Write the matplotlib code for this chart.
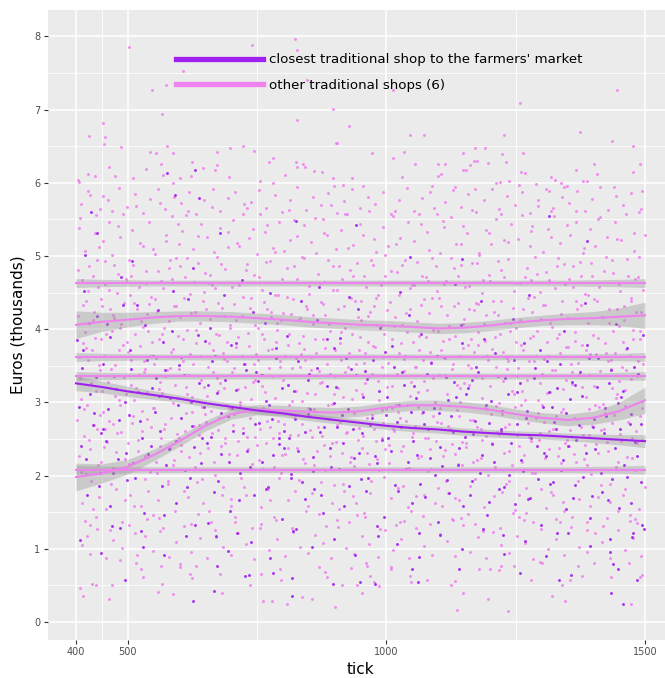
import numpy as np
import matplotlib
matplotlib.use('Agg')
import matplotlib.pyplot as plt
from matplotlib.lines import Line2D
from matplotlib.ticker import FixedLocator

# daily sales (thousands of euros) per tick: "tick value" pairs
other_pts = """
403 4.81 406 2.27 408 5.52 410 3.05 412 1.63 414 4.33 416 2.91 418 5.07 420 3.74 421 1.18 423 4.52 425 2.48
427 5.83 429 3.27 430 1.92 432 4.12 434 2.69 436 5.31 437 3.88 439 1.44 441 4.95 443 2.15 444 3.51 446 5.64
447 2.83 449 4.41 405 3.62 419 2.02 433 4.73 445 1.71
451 3.15 452 5.21 454 2.39 456 4.62 458 1.55 459 3.93 461 5.76 463 2.74 465 4.28 466 1.26 468 3.46 470 5.02
472 2.11 473 4.87 475 3.09 477 1.82 479 4.49 480 2.58 482 5.41 484 3.71 486 2.96 487 4.07 489 1.37 491 5.58
493 3.34 495 2.23 496 4.69 498 3.82 457 2.64 471 4.19
501 2.44 503 4.94 505 1.73 507 3.58 508 5.36 510 2.81 512 4.36 514 1.21 516 3.19 517 5.68 519 2.33 521 4.58
523 3.77 525 1.58 526 4.11 528 2.61 530 5.14 532 3.41 534 1.96 535 4.79 537 2.77 539 3.97 541 5.47 543 2.05
544 3.63 546 4.44 548 2.92 549 1.46 513 3.03 538 4.21
551 3.52 553 5.03 555 2.18 556 4.25 558 1.67 560 3.86 562 5.72 564 2.52 565 4.66 567 3.13 569 1.29 571 4.02
573 2.71 574 5.29 576 3.44 578 1.88 580 4.84 582 2.37 583 3.69 585 5.55 587 2.99 589 4.31 591 1.51 592 3.24
594 4.97 596 2.57 598 3.91 599 5.16 563 3.28 588 2.14
601 4.16 603 2.42 605 5.34 607 3.57 609 1.79 610 4.71 612 2.86 614 3.99 616 5.61 618 2.26 619 3.37 621 4.48
623 1.34 625 3.07 627 5.09 628 2.68 630 4.23 632 3.81 634 1.91 636 4.91 637 2.55 639 3.64 641 5.43 643 2.94
645 4.38 646 1.62 648 3.21 650 4.77 615 3.12 640 2.31
652 2.73 654 5.26 655 3.49 657 1.52 659 4.14 661 2.88 663 5.67 664 3.71 666 2.19 668 4.56 670 1.16 672 3.33
673 4.99 675 2.62 677 3.92 679 5.38 681 2.41 682 4.29 684 1.85 686 3.59 688 4.82 690 2.97 691 3.83 693 5.12
695 2.29 697 4.06 699 1.68 674 3.16 689 2.51 658 4.63
701 3.42 703 5.49 705 2.84 706 4.35 708 1.43 710 3.76 712 5.18 714 2.47 715 4.61 717 3.01 719 1.97 721 4.18
723 2.65 724 5.71 726 3.53 728 1.74 730 4.89 732 2.36 733 3.95 735 5.24 737 2.78 739 4.42 741 1.28 742 3.28
744 4.74 746 2.53 748 3.66 749 5.03 713 3.18 738 2.09
751 4.01 753 2.21 755 5.58 757 3.38 758 1.57 760 4.53 762 2.93 764 3.87 766 5.33 767 2.45 769 4.27 771 1.81
773 3.47 775 4.93 776 2.67 778 3.73 780 5.11 782 2.12 784 4.47 785 3.06 787 1.39 789 4.09 791 2.74 793 5.46
794 3.56 796 2.03 798 4.68 759 3.22 777 4.17 792 2.58
801 3.31 803 5.07 805 2.29 807 4.44 809 1.66 810 3.79 812 5.63 814 2.56 816 4.21 818 3.02 819 1.23 821 4.86
823 2.82 825 3.61 827 5.27 828 2.38 830 4.13 832 1.94 834 3.48 836 4.98 837 2.71 839 3.91 841 5.42 843 2.17
845 4.32 846 3.13 848 1.59 850 4.59 811 2.96 835 3.66
852 2.62 854 5.19 855 3.44 857 1.76 859 4.07 861 2.91 863 5.52 864 3.68 866 2.33 868 4.76 870 1.48 872 3.26
873 4.37 875 2.54 877 3.86 879 5.31 881 2.08 882 4.19 884 1.31 886 3.52 888 4.95 890 2.77 891 3.97 893 5.69
895 2.44 897 4.54 899 1.87 862 3.11 880 4.64 894 2.98
901 3.36 903 5.09 905 2.69 906 4.28 908 1.54 910 3.81 912 5.36 914 2.31 915 4.69 917 3.08 919 1.79 921 4.02
923 2.59 924 5.57 926 3.49 928 1.36 930 4.81 932 2.26 933 3.94 935 5.15 937 2.86 939 4.39 941 1.63 942 3.17
944 4.91 946 2.49 948 3.72 949 5.44 913 3.58 938 2.13
951 4.12 953 2.37 955 5.28 957 3.54 958 1.43 960 4.57 962 2.79 964 3.83 966 5.61 967 2.16 969 4.23 971 1.92
973 3.39 975 4.87 976 2.64 978 3.76 980 5.06 982 2.22 984 4.46 985 3.03 987 1.27 989 4.04 991 2.89 993 5.39
994 3.62 996 1.98 998 4.72 959 3.27 977 4.31 992 2.52
1001 3.21 1003 5.13 1005 2.42 1007 4.37 1009 1.69 1010 3.87 1012 5.54 1014 2.61 1016 4.16 1018 2.97 1019 1.32
1021 4.78 1023 2.87 1025 3.67 1027 5.24 1028 2.34 1030 4.06 1032 1.86 1034 3.43 1036 4.94 1037 2.74 1039 3.96
1041 5.47 1043 2.11 1045 4.27 1046 3.09 1048 1.51 1050 4.61 1011 2.93 1035 3.59
1052 2.58 1054 5.21 1055 3.48 1057 1.72 1059 4.11 1061 2.94 1063 5.58 1064 3.71 1066 2.27 1068 4.72 1070 1.45
1072 3.29 1073 4.41 1075 2.51 1077 3.89 1079 5.33 1081 2.06 1082 4.22 1084 1.34 1086 3.55 1088 4.97 1090 2.81
1091 3.99 1093 5.66 1095 2.47 1097 4.52 1099 1.83 1062 3.14 1080 4.66 1094 3.01
1101 3.38 1103 5.04 1105 2.72 1106 4.31 1108 1.58 1110 3.84 1112 5.39 1114 2.35 1115 4.66 1117 3.12 1119 1.76
1121 4.04 1123 2.63 1124 5.53 1126 3.46 1128 1.39 1130 4.84 1132 2.29 1133 3.91 1135 5.17 1137 2.89 1139 4.36
1141 1.67 1142 3.19 1144 4.88 1146 2.46 1148 3.74 1149 5.41 1113 3.61 1138 2.16
1151 4.14 1153 2.39 1155 5.31 1157 3.51 1158 1.47 1160 4.59 1162 2.76 1164 3.86 1166 5.63 1167 2.19 1169 4.26
1171 1.95 1173 3.36 1175 4.91 1176 2.67 1178 3.78 1180 5.02 1182 2.24 1184 4.49 1185 3.06 1187 1.24 1189 4.07
1191 2.92 1193 5.36 1194 3.64 1196 2.01 1198 4.74 1159 3.24 1177 4.34 1192 2.54
1201 3.23 1203 5.16 1205 2.44 1207 4.39 1209 1.72 1210 3.89 1212 5.51 1214 2.59 1216 4.19 1218 2.99 1219 1.29
1221 4.81 1223 2.84 1225 3.69 1227 5.22 1228 2.31 1230 4.09 1232 1.89 1234 3.45 1236 4.96 1237 2.71 1239 3.98
1241 5.44 1243 2.14 1245 4.29 1246 3.11 1248 1.53 1250 4.63 1211 2.95 1235 3.57
1252 2.56 1254 5.23 1255 3.47 1257 1.74 1259 4.13 1261 2.96 1263 5.56 1264 3.72 1266 2.28 1268 4.71 1270 1.49
1272 3.31 1273 4.43 1275 2.53 1277 3.88 1279 5.34 1281 2.04 1282 4.24 1284 1.36 1286 3.56 1288 4.99 1290 2.79
1291 3.97 1293 5.68 1295 2.48 1297 4.51 1299 1.81 1262 3.16 1280 4.67 1294 3.03
1301 3.39 1303 5.06 1305 2.73 1306 4.33 1308 1.56 1310 3.82 1312 5.37 1314 2.36 1315 4.67 1317 3.14 1319 1.78
1321 4.03 1323 2.64 1324 5.54 1326 3.44 1328 1.41 1330 4.86 1332 2.27 1333 3.93 1335 5.18 1337 2.87 1339 4.38
1341 1.64 1342 3.18 1344 4.89 1346 2.45 1348 3.76 1349 5.42 1313 3.63 1338 2.17
1351 4.15 1353 2.41 1355 5.29 1357 3.53 1358 1.44 1360 4.58 1362 2.78 1364 3.84 1366 5.62 1367 2.18 1369 4.27
1371 1.93 1373 3.37 1375 4.92 1376 2.66 1378 3.79 1380 5.04 1382 2.23 1384 4.48 1385 3.07 1387 1.26 1389 4.08
1391 2.91 1393 5.37 1394 3.66 1396 2.02 1398 4.73 1359 3.25 1377 4.33 1392 2.55
1401 3.22 1403 5.14 1405 2.43 1407 4.38 1409 1.71 1410 3.88 1412 5.53 1414 2.62 1416 4.17 1418 2.98 1419 1.31
1421 4.79 1423 2.86 1425 3.68 1427 5.26 1428 2.33 1430 4.08 1432 1.88 1434 3.46 1436 4.95 1437 2.72 1439 3.97
1441 5.46 1443 2.12 1445 4.28 1446 3.12 1448 1.52 1450 4.62 1411 2.94 1435 3.58
1452 2.57 1454 5.22 1455 3.49 1457 1.73 1459 4.12 1461 2.95 1463 5.57 1464 3.73 1466 2.26 1468 4.73 1470 1.46
1472 3.32 1473 4.42 1475 2.52 1477 3.87 1479 5.32 1481 2.07 1482 4.23 1484 1.35 1486 3.57 1488 4.98 1490 2.82
1491 3.98 1493 5.64 1495 2.49 1497 4.53 1499 1.84 1462 3.17 1480 4.68 1494 3.02
402 2.76 404 4.18 407 3.33 409 2.05 411 4.67 413 3.81 415 2.54 417 3.96 420 4.39 422 2.97 424 3.58 426 4.86
428 2.36 431 3.72 433 1.54 435 4.24 438 3.16 440 2.63 442 4.58 444 5.12 446 3.44 448 2.19 449 3.87 406 5.38 427 1.33
450 4.31 453 2.87 455 3.64 457 4.93 460 2.46 462 3.28 464 4.54 467 1.88 469 3.97 471 2.71 474 4.15 476 3.51
478 2.32 481 4.76 483 3.03 485 5.26 488 2.59 490 3.79 492 4.36 494 1.67 497 3.12 499 4.64 463 5.47 479 2.09 486 4.02
500 3.69 502 2.16 504 4.47 506 3.24 509 2.72 511 4.88 513 1.58 515 3.93 518 4.27 520 2.49 522 3.37 524 5.18
527 2.88 529 4.03 531 3.57 533 2.27 536 4.63 538 3.14 540 1.79 542 4.35 545 2.67 547 3.82 549 5.09 507 4.72 533 3.46
550 2.93 552 4.41 554 3.61 557 2.04 559 4.79 561 3.18 563 2.41 566 3.94 568 4.56 570 2.63 572 3.36 575 5.21
577 1.92 579 4.11 581 3.47 584 2.78 586 4.69 588 3.73 590 2.21 593 4.32 595 3.06 597 5.43 599 2.52 560 1.42 581 4.94
600 3.45 602 4.86 604 2.34 606 3.87 608 4.43 611 2.61 613 3.21 615 4.97 617 1.71 620 3.66 622 4.22 624 2.87
626 3.52 629 4.65 631 2.12 633 3.99 635 5.27 638 2.69 640 4.08 642 3.31 644 1.96 647 4.51 649 2.84 612 5.56 636 1.47
651 4.27 653 3.09 656 2.38 658 3.81 660 4.74 662 2.58 665 3.42 667 5.06 669 2.01 671 3.94 674 4.36 676 2.79
678 3.27 680 4.89 683 1.73 685 3.68 687 4.18 689 2.44 692 3.56 694 5.33 696 2.93 698 4.02 700 1.59 662 4.61 687 3.19
702 4.58 704 2.69 706 3.47 709 4.12 711 2.28 713 3.89 716 5.14 718 2.97 720 3.63 722 4.44 725 1.84 727 3.21
729 4.81 731 2.53 734 3.77 736 4.29 738 3.04 740 2.16 743 5.37 745 3.52 747 4.06 749 2.42 708 1.37 731 5.66 746 3.31
752 3.58 754 4.71 756 2.63 759 3.94 761 2.09 763 4.37 766 3.14 768 4.92 770 2.74 772 3.71 775 1.67 777 4.24
779 3.36 781 2.51 784 5.06 786 3.83 788 2.88 790 4.46 793 1.97 795 3.49 797 4.13 799 2.28 770 5.42 788 3.99 755 1.29
800 4.22 802 2.71 804 3.64 807 4.83 809 2.38 811 3.93 813 5.22 816 2.84 818 3.47 820 4.41 823 1.79 825 3.16
827 4.69 829 2.56 832 3.81 834 4.15 836 3.02 838 2.23 841 4.97 843 3.58 845 1.52 847 4.28 849 2.92 822 5.49 840 3.73
851 4.48 853 2.81 855 3.62 858 4.19 860 2.14 862 3.86 864 5.04 867 2.67 869 3.43 871 4.63 873 1.91 876 3.28
878 4.34 880 2.42 882 3.74 885 5.29 887 2.96 889 4.07 891 3.39 894 1.63 896 4.86 898 3.12 856 2.53 877 5.51 892 2.27
900 3.71 902 2.46 904 4.53 907 3.19 909 4.86 911 2.73 913 3.96 916 1.88 918 4.31 920 3.41 922 2.58 925 5.11
927 3.67 929 2.19 931 4.42 934 3.04 936 4.72 938 2.87 941 3.53 943 1.46 945 4.17 947 2.65 949 3.89 920 5.58 936 1.72
950 4.38 953 3.11 955 2.54 957 4.73 959 3.67 962 2.31 964 4.18 966 3.36 968 1.76 971 4.94 973 2.83 975 3.77
977 5.23 980 2.47 982 4.06 984 3.29 986 2.08 989 4.61 991 3.48 993 2.72 996 3.93 998 5.02 957 1.49 979 4.42 997 2.36
1000 2.91 1002 4.26 1004 3.54 1006 2.17 1009 4.79 1011 3.22 1013 2.64 1015 4.04 1018 5.17 1020 3.39 1022 1.83
1024 4.47 1027 2.79 1029 3.81 1031 4.88 1033 2.41 1036 3.63 1038 4.22 1040 2.96 1042 1.57 1045 4.56 1047 3.28
1049 2.53 1017 5.61 1034 1.38
1051 3.82 1053 4.61 1055 2.68 1058 3.49 1060 4.92 1062 2.24 1064 3.91 1067 4.33 1069 2.86 1071 3.58 1073 1.74
1076 4.71 1078 3.17 1080 2.51 1082 5.08 1085 3.69 1087 2.09 1089 4.42 1091 3.33 1094 1.62 1096 4.86 1098 2.73
1100 3.97 1066 5.44 1084 2.36
1102 4.43 1104 2.93 1106 3.71 1109 2.27 1111 4.62 1113 3.38 1115 1.92 1118 4.19 1120 2.68 1122 3.86 1124 4.97
1127 2.43 1129 3.52 1131 4.31 1133 1.69 1136 3.24 1138 4.73 1140 2.81 1142 3.63 1145 5.16 1147 2.14 1149 4.07
1110 5.48 1126 1.41 1143 3.01
1150 3.26 1152 4.57 1154 2.44 1157 3.79 1159 4.28 1161 1.86 1164 3.47 1166 4.91 1168 2.76 1170 3.69 1173 4.36
1175 2.21 1177 3.96 1179 5.04 1182 2.63 1184 3.33 1186 4.67 1188 1.57 1191 3.84 1193 4.19 1195 2.91 1197 3.58
1199 5.31 1171 1.34 1185 2.48
1201 4.66 1203 2.84 1205 3.73 1208 4.24 1210 2.12 1212 3.48 1215 4.93 1217 2.57 1219 3.94 1221 4.38 1224 1.77
1226 3.29 1228 4.71 1230 2.66 1233 3.61 1235 5.19 1237 2.33 1239 4.09 1242 3.16 1244 1.49 1246 4.52 1248 2.94
1250 3.82 1222 5.57 1238 1.92
1251 4.02 1253 3.36 1256 2.41 1258 4.63 1260 3.78 1262 2.19 1265 4.27 1267 3.03 1269 1.83 1271 4.84 1274 2.72
1276 3.57 1278 5.13 1280 2.47 1283 3.91 1285 4.44 1287 2.03 1290 3.64 1292 4.76 1294 2.86 1296 3.27 1299 4.14
1257 1.44 1281 5.41 1297 2.58
1300 2.97 1302 4.33 1305 3.59 1307 2.24 1309 4.78 1311 3.13 1314 2.61 1316 4.09 1318 5.26 1320 3.44 1323 1.73
1325 4.56 1327 2.82 1329 3.88 1332 4.97 1334 2.38 1336 3.67 1338 4.21 1341 2.91 1343 1.51 1345 4.62 1347 3.31
1349 2.49 1319 5.62 1335 1.36
1351 3.76 1353 4.68 1355 2.62 1358 3.42 1360 4.86 1362 2.29 1364 3.96 1367 4.38 1369 2.77 1371 3.54 1373 1.68
1376 4.73 1378 3.21 1380 2.56 1382 5.11 1385 3.71 1387 2.14 1389 4.47 1391 3.37 1394 1.59 1396 4.91 1398 2.68
1400 3.92 1366 5.47 1384 2.42
1402 4.41 1404 2.96 1406 3.66 1409 2.31 1411 4.58 1413 3.43 1415 1.87 1418 4.16 1420 2.64 1422 3.81 1424 4.99
1427 2.46 1429 3.56 1431 4.27 1433 1.64 1436 3.19 1438 4.77 1440 2.83 1442 3.68 1445 5.23 1447 2.18 1449 4.04
1410 5.51 1426 1.42 1443 3.06
1450 3.29 1452 4.52 1454 2.47 1457 3.83 1459 4.32 1461 1.81 1464 3.44 1466 4.96 1468 2.73 1470 3.63 1473 4.39
1475 2.24 1477 3.99 1479 5.07 1482 2.61 1484 3.36 1486 4.71 1488 1.54 1491 3.87 1493 4.23 1495 2.93 1497 3.52
1499 5.28 1471 1.38 1485 2.44
412 1.05 427 0.93 441 1.27 458 0.88 472 1.12 489 1.01 503 1.33 518 0.91 534 1.18 549 0.97 563 1.24 579 0.89
594 1.09 608 1.31 623 0.95 639 1.15 654 0.87 668 1.26 684 1.03 699 0.92 713 1.21 729 1.07 744 0.86 758 1.34
773 0.99 789 1.14 804 0.90 818 1.28 833 1.02 849 0.94 863 1.19 878 1.08 893 0.88 907 1.30 922 1.01 938 0.93
953 1.17 967 1.06 983 0.89 998 1.25 1012 0.98 1028 1.13 1043 0.87 1057 1.29 1072 1.04 1088 0.92 1103 1.20
1117 1.10 1132 0.90 1148 1.32 1162 0.96 1177 1.16 1193 0.88 1207 1.23 1222 1.05 1238 0.94 1253 1.18 1267 1.08
1283 0.86 1298 1.27 1312 1.00 1327 1.14 1343 0.91 1357 1.30 1372 1.03 1388 0.95 1403 1.21 1417 1.09 1432 0.87
1448 1.26 1462 0.99 1477 1.15 1492 0.90 418 1.38 537 1.41 661 1.37 782 1.43 905 1.39 1026 1.36 1145 1.42
1266 1.40 1387 1.37 1481 1.41
409 5.71 424 5.89 438 5.56 453 5.82 469 5.62 484 5.93 498 5.67 514 5.85 529 5.59 544 5.78 558 5.91 573 5.64
589 5.81 604 5.72 619 5.88 633 5.58 648 5.76 664 5.92 679 5.61 694 5.79 708 5.87 723 5.57 739 5.74 754 5.90
768 5.66 784 5.83 799 5.60 813 5.77 828 5.94 844 5.63 859 5.80 873 5.69 888 5.86 904 5.59 918 5.75 933 5.91
949 5.65 964 5.81 978 5.71 993 5.88 1008 5.58 1024 5.76 1039 5.93 1053 5.62 1068 5.79 1084 5.87 1098 5.57
1113 5.74 1129 5.90 1144 5.67 1158 5.84 1173 5.60 1189 5.77 1204 5.92 1218 5.64 1233 5.82 1249 5.70 1263 5.88
1278 5.59 1294 5.76 1308 5.91 1323 5.66 1339 5.80 1353 5.72 1368 5.89 1384 5.61 1398 5.78 1413 5.94 1429 5.63
1444 5.82 1458 5.69 1473 5.86 1489 5.60
503 7.85 740 7.88 823 7.96 828 7.81 607 7.52 547 7.27 575 7.33 847 7.40 896 7.01 827 6.86 566 6.94 453 6.81
426 6.64 456 6.62 455 6.53 487 6.49 576 6.50 903 6.55 723 6.50 744 6.44 698 6.47 544 6.42 554 6.40 672 6.42
464 6.21 564 6.25 569 6.11 588 6.41 624 6.29 673 6.24 668 6.18 774 6.29 780 6.34 825 6.29 828 6.22 838 6.25
843 6.22 805 6.11 860 6.16 876 6.15 404 6.04 405 6.01 424 6.12 437 6.09 475 6.09 511 6.06 536 6.19 587 5.99
601 6.07 623 6.09 646 6.20 696 6.08 755 6.03 781 6.00 897 6.06
928 6.78 904 6.55 1013 7.27 1258 7.09 1445 7.27 1374 6.70 1437 6.57 1476 6.50 1228 6.65 1045 6.65 1073 6.65
973 6.41 1035 6.42 1012 6.34 1171 6.47 1190 6.48 1149 6.40 1223 6.39 1264 6.41 1170 6.30 1176 6.30 1196 6.27
1231 6.29 1055 6.26 1100 6.26 1113 6.25 1161 6.24 1149 6.18 1153 6.18 1099 6.09 1105 6.12 1031 6.08 1260 6.15
1268 6.13 1319 6.08 1325 6.04 1367 6.17 1381 6.03 1388 6.02 1402 6.25 1408 6.12 1477 6.15 1491 6.25 934 6.06
955 5.95 898 5.96 917 5.97 1212 6.00 1220 6.01 1238 6.02 1256 5.97 1289 5.98 1338 6.00 1344 5.94 1350 5.95
1440 5.94 1495 5.89 1088 5.95 1132 5.94 1171 5.92 1315 5.89
408 0.46 414 0.36 431 0.52 439 0.51 464 0.32 469 0.50 485 0.84 517 0.81 525 0.73 529 0.62 559 0.41 564 0.77
567 0.52 587 0.38 601 0.75 602 0.79 620 0.66 625 0.60 632 0.77 679 0.65 682 0.39 736 0.51 758 0.66 762 0.29
778 0.29 794 0.73 797 0.58 808 0.24 837 0.34 856 0.31 869 0.75 881 0.68 886 0.61 900 0.21 915 0.51 931 0.74
944 0.51 952 0.40 961 0.80 962 0.76 968 0.63 977 0.54 986 0.49 1008 0.75 1009 0.72 1045 0.63 1047 0.54
1078 0.57 1125 0.50 1133 0.56 1137 0.17 1149 0.39 1179 0.73 1197 0.32 1201 0.73 1217 0.71 1221 0.77 1235 0.15
1247 0.77 1279 0.58 1296 0.82 1301 0.80 1320 0.36 1340 0.50 1345 0.29 1355 0.58 1370 0.77 1379 0.63 1402 0.81
1435 0.61 1472 0.25 1469 0.81 1491 0.62 1494 0.64
"""

closest_pts = """
402 3.85 409 2.41 415 4.52 422 1.73 428 3.12 435 2.86 440 4.18 447 2.04 411 3.47
453 2.63 460 4.07 466 1.58 474 3.36 481 2.22 488 4.71 494 3.01 462 2.91 499 1.94
504 3.72 511 2.17 518 4.33 524 2.74 531 1.49 538 3.58 545 2.41 509 4.93 547 3.19
552 2.87 559 4.26 566 1.86 572 3.44 579 2.36 586 3.97 593 1.62 597 2.96 561 3.09
604 3.62 611 2.08 617 4.41 624 2.68 631 1.33 638 3.27 644 2.52 649 3.84 620 1.97
653 2.44 660 4.02 667 1.77 673 3.13 680 2.29 687 4.46 694 2.81 698 1.52 662 3.56
702 2.93 709 3.81 716 1.66 722 2.58 729 3.44 736 2.12 743 4.24 747 2.71 711 1.21
752 3.29 759 2.19 765 4.09 772 1.84 779 2.77 786 3.61 792 2.43 799 1.41 768 3.02
802 2.61 808 3.91 815 1.97 821 3.16 829 2.33 835 4.38 842 1.68 849 2.84 812 2.52
851 3.39 858 2.06 865 4.12 871 2.59 878 1.49 885 3.23 892 2.38 898 3.74 861 1.81
904 2.67 911 3.88 918 1.59 925 2.91 931 3.46 938 2.24 945 4.27 950 1.96 916 2.44
954 3.07 961 1.79 968 2.69 974 3.58 981 2.17 988 4.01 995 1.43 999 2.83 963 3.32
1004 2.51 1011 3.77 1017 1.87 1024 2.96 1031 3.41 1038 2.09 1044 4.19 1049 1.63 1020 2.73
1053 3.22 1060 2.28 1067 3.93 1074 1.71 1081 2.63 1087 3.54 1094 2.01 1099 1.37 1071 2.87
1104 2.39 1111 3.62 1118 1.94 1125 2.81 1131 3.28 1138 2.14 1144 4.06 1149 1.58 1120 3.03
1154 3.11 1161 1.74 1168 2.57 1174 3.49 1181 2.04 1188 3.86 1195 1.46 1199 2.72 1165 3.31
1204 2.43 1210 3.68 1217 1.82 1224 2.88 1230 3.33 1237 2.01 1244 4.14 1249 1.61 1221 2.64
1253 3.14 1260 2.21 1266 3.81 1273 1.68 1280 2.52 1287 3.47 1293 1.96 1298 1.32 1270 2.79
1304 2.31 1311 3.57 1317 1.89 1324 2.73 1330 3.19 1337 2.07 1343 3.98 1348 1.54 1320 2.94
1354 3.04 1361 1.69 1367 2.49 1374 3.41 1381 1.98 1388 3.79 1394 1.42 1399 2.66 1365 3.24
1404 2.36 1410 3.61 1417 1.77 1424 2.81 1430 3.26 1437 1.95 1443 4.07 1449 1.56 1421 2.58
1453 3.07 1460 2.14 1466 3.74 1473 1.62 1480 2.46 1487 3.39 1493 1.91 1498 1.27 1470 2.71
405 2.94 413 3.71 419 2.23 426 4.08 432 2.69 438 3.34 444 1.86 449 2.58 417 5.02
452 3.52 458 2.47 465 3.89 471 2.04 477 3.18 484 2.76 490 4.33 497 2.31 470 1.31
502 2.83 507 3.46 514 1.97 520 3.14 527 2.52 533 4.06 540 2.29 548 3.63 525 1.24
555 3.33 562 2.61 568 3.82 575 2.14 581 3.06 588 4.52 594 2.47 599 3.51 570 1.46
603 2.79 609 3.37 615 1.84 622 3.01 628 2.39 635 3.92 641 2.17 647 2.94 626 4.83
655 3.24 661 2.53 668 3.63 675 1.93 681 2.86 688 3.31 695 2.19 699 3.78 670 1.18
704 2.61 710 3.17 717 2.03 724 3.52 730 2.34 737 2.89 744 1.73 748 3.41 720 4.67
754 2.72 760 3.38 767 1.81 773 2.97 780 2.28 787 3.74 793 2.51 798 3.19 776 4.49
803 2.38 810 3.24 816 2.02 823 2.77 830 3.57 836 1.91 843 2.59 848 3.31 826 1.27
853 2.91 859 2.26 866 3.47 873 1.74 879 2.67 886 3.86 893 2.12 899 2.99 870 4.58
903 3.21 909 2.09 915 2.83 922 3.61 928 1.86 935 2.64 941 3.37 948 2.31 927 4.44
952 2.58 958 3.43 965 1.97 972 2.79 978 2.27 985 3.16 992 2.49 998 3.69 983 1.18
1002 3.07 1008 2.34 1015 3.49 1022 1.79 1028 2.66 1035 3.24 1041 2.18 1047 2.87 1026 4.51
1052 2.47 1058 3.06 1065 1.88 1072 2.71 1078 3.39 1085 2.24 1092 2.93 1098 3.64 1063 1.21
1102 2.86 1108 2.13 1115 3.34 1122 1.76 1128 2.59 1135 3.07 1141 2.37 1147 3.81 1133 4.62
1152 2.53 1158 3.19 1165 1.93 1172 2.74 1178 3.41 1185 2.28 1192 2.96 1198 1.64 1183 4.39
1202 3.02 1208 2.19 1215 3.36 1222 2.61 1228 1.84 1235 3.11 1241 2.44 1247 3.58 1226 1.19
1252 2.71 1258 3.27 1265 2.06 1272 2.88 1278 1.69 1285 3.33 1292 2.41 1297 3.71 1276 4.46
1302 2.94 1308 2.27 1315 3.14 1322 1.91 1328 2.63 1335 3.52 1341 2.21 1347 2.86 1329 1.21
1352 2.41 1358 3.28 1365 1.87 1372 2.69 1378 3.09 1385 2.31 1392 3.61 1398 1.72 1383 4.36
1402 2.77 1408 3.21 1415 2.04 1422 2.93 1428 1.66 1435 3.44 1441 2.38 1447 2.99 1433 1.14
1452 2.64 1458 3.16 1465 1.98 1472 2.84 1478 3.49 1485 2.27 1492 2.71 1497 3.92 1476 1.21
407 1.12 448 0.94 486 1.29 529 1.03 571 0.91 612 1.18 655 1.35 694 0.97 738 1.09 776 0.88 819 1.24 857 1.02
899 1.14 940 0.92 982 1.31 1021 1.06 1064 0.89 1103 1.19 1146 1.00 1187 1.27 1227 0.93 1268 1.11 1309 0.90
1351 1.22 1393 1.04 1433 0.95 1474 1.16 1495 1.33
576 6.14 631 6.18 495 0.58 627 0.29 666 0.43 672 0.77 727 0.63 735 0.64 781 0.67 817 0.60 818 0.36 897 0.52
949 0.55 978 0.52 1049 0.72 1061 0.55 1140 0.73 1259 0.67 1334 0.58 1357 0.64 1435 0.39 1438 0.79 1448 0.73
1458 0.24 1484 0.57 430 5.60 440 5.32 591 5.83 637 5.79 678 5.31 826 5.48 942 5.42 1315 5.54 1387 5.21
1045 4.99 1146 4.96
"""

# loess fits, sampled every 50 ticks
fit_ticks = [400, 450, 500, 550, 600, 650, 700, 750, 800, 850, 900, 950,
             1000, 1050, 1100, 1150, 1200, 1250, 1300, 1350, 1400, 1450, 1500]

closest_fit = [3.26, 3.21, 3.15, 3.10, 3.05, 2.99, 2.94, 2.89, 2.85, 2.80, 2.76, 2.72,
               2.68, 2.65, 2.63, 2.60, 2.58, 2.56, 2.55, 2.53, 2.51, 2.49, 2.47]
closest_se = [0.10, 0.08, 0.07, 0.06, 0.05, 0.05, 0.05, 0.05, 0.05, 0.05, 0.05, 0.05,
              0.05, 0.05, 0.05, 0.05, 0.05, 0.05, 0.05, 0.05, 0.06, 0.07, 0.09]

shop_fits = [
    [4.63] * 23,
    [4.06, 4.10, 4.13, 4.16, 4.18, 4.18, 4.17, 4.15, 4.13, 4.10, 4.08, 4.06,
     4.05, 4.03, 4.01, 4.02, 4.05, 4.09, 4.12, 4.14, 4.15, 4.17, 4.19],
    [3.62] * 23,
    [3.36] * 23,
    [1.98, 2.03, 2.12, 2.28, 2.47, 2.68, 2.84, 2.90, 2.89, 2.87, 2.86, 2.88,
     2.93, 2.96, 2.96, 2.94, 2.90, 2.84, 2.79, 2.76, 2.79, 2.88, 3.03],
    [2.08] * 23,
]
flat_se = [0.06, 0.05, 0.045, 0.04, 0.04, 0.04, 0.04, 0.04, 0.04, 0.04, 0.04, 0.04,
           0.04, 0.04, 0.04, 0.04, 0.04, 0.04, 0.04, 0.04, 0.045, 0.05, 0.06]
wavy_se = [0.19, 0.13, 0.10, 0.08, 0.07, 0.07, 0.07, 0.07, 0.07, 0.07, 0.07, 0.07,
           0.07, 0.07, 0.07, 0.07, 0.07, 0.07, 0.07, 0.08, 0.09, 0.12, 0.18]
shop_se = [flat_se, wavy_se, flat_se, flat_se, wavy_se, flat_se]

labels = ["closest traditional shop to the farmers' market", "other traditional shops (6)"]
x_breaks = [400, 500, 1000, 1500]
x_minor = [450, 750, 1250]

PURPLE = '#A020F0'
VIOLET = '#EE82EE'


def parse(s):
    a = np.array(s.split(), dtype=float).reshape(-1, 2)
    return a[:, 0], a[:, 1]


W, H = 665, 678
fig = plt.figure(figsize=(W / 100, H / 100), dpi=100)
ax = fig.add_axes([47.5 / W, (H - 640) / H, (673.5 - 47.5) / W, 630 / H])
ax.set_facecolor('#EBEBEB')
for s in ax.spines.values():
    s.set_visible(False)

ox, oy = parse(other_pts)
cx, cy = parse(closest_pts)
ax.scatter(ox, oy, s=4.5, color=VIOLET, linewidths=0, alpha=0.9, zorder=2)
ax.scatter(cx, cy, s=4.5, color=PURPLE, linewidths=0, alpha=0.9, zorder=2)

t = np.array(fit_ticks)
for fit, se in zip(shop_fits, shop_se):
    f, e = np.array(fit), np.array(se)
    ax.fill_between(t, f - e, f + e, color='#999999', alpha=0.4, linewidth=0, zorder=3)
f, e = np.array(closest_fit), np.array(closest_se)
ax.fill_between(t, f - e, f + e, color='#999999', alpha=0.4, linewidth=0, zorder=3)
for fit in shop_fits:
    ax.plot(t, fit, color=VIOLET, lw=1.5, zorder=4)
ax.plot(t, closest_fit, color=PURPLE, lw=1.5, zorder=5)

ax.set_xlim(345, 1555)
ax.set_ylim(-0.246, 8.36)
ax.set_xticks(x_breaks)
ax.xaxis.set_minor_locator(FixedLocator(x_minor))
ax.set_yticks(range(0, 9))
ax.yaxis.set_minor_locator(FixedLocator(np.arange(0.5, 8.5, 1)))
ax.grid(which='major', color='white', lw=1.1, zorder=0)
ax.grid(which='minor', color='white', lw=0.55, zorder=0)
ax.set_axisbelow(True)
ax.tick_params(which='major', length=3, width=0.8, color='#333333',
               labelsize=7, labelcolor='#4D4D4D', pad=2)
ax.tick_params(which='minor', length=0)

ax.set_xlabel('tick', fontsize=11, labelpad=4)
ax.set_ylabel('Euros (thousands)', fontsize=11, labelpad=6)

handles = [Line2D([], [], color=PURPLE, lw=3.8), Line2D([], [], color=VIOLET, lw=3.8)]
fig.legend(handles, labels, loc='center left', bbox_to_anchor=(176 / W, 1 - 72.5 / H),
           frameon=False, fontsize=9.6, handlelength=6.5, handletextpad=0.45,
           labelspacing=0.9, borderpad=0, borderaxespad=0)

fig.savefig('out.png', dpi=100)
